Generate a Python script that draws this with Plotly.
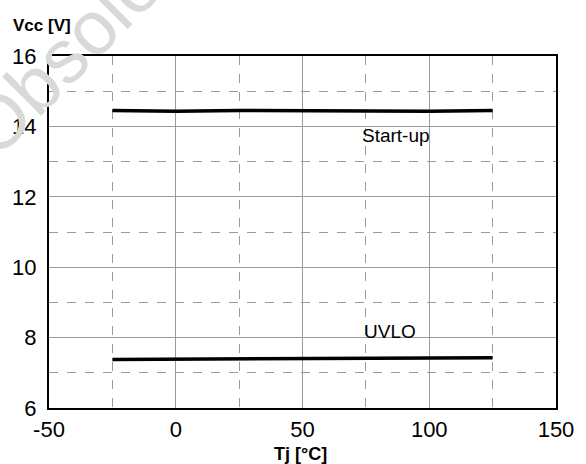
import plotly.graph_objects as go

# Data
temps = [-25, 0, 25, 50, 75, 100, 125]
startup = [14.45, 14.43, 14.45, 14.44, 14.43, 14.43, 14.45]
uvlo = [7.38, 7.39, 7.41, 7.42, 7.42, 7.43, 7.43]

x_ticks = [-50, 0, 50, 100, 150]
y_ticks = [6, 8, 10, 12, 14, 16]

FONT = "Liberation Sans, Arial, sans-serif"

fig = go.Figure()
fig.add_trace(go.Scatter(x=temps, y=startup, mode="lines",
                         line=dict(color="black", width=3.5), showlegend=False))
fig.add_trace(go.Scatter(x=temps, y=uvlo, mode="lines",
                         line=dict(color="black", width=3.5), showlegend=False))

axis_common = dict(
    showline=True, linecolor="black", linewidth=2, mirror=True,
    showgrid=True, gridcolor="#9a9a9a", gridwidth=1,
    zeroline=False, ticks="",
    tickfont=dict(family=FONT, size=22, color="black"),
)

fig.update_xaxes(range=[-50, 150], tickvals=x_ticks,
                 ticktext=[str(v) for v in x_ticks], ticklabelstandoff=1,
                 minor=dict(dtick=25, showgrid=True, griddash="dash",
                            gridcolor="#9a9a9a", gridwidth=1),
                 **axis_common)
fig.update_yaxes(range=[6, 16], tickvals=y_ticks,
                 ticktext=[str(v) for v in y_ticks], ticklabelstandoff=6,
                 minor=dict(dtick=1, showgrid=True, griddash="dash",
                            gridcolor="#9a9a9a", gridwidth=1),
                 **axis_common)

annotations = [
    dict(text="Obsolete", xref="paper", yref="paper", x=0.07, y=1.062,
         xanchor="center", yanchor="middle", textangle=-45, showarrow=False,
         font=dict(family=FONT, size=76, color="#d9d9d9")),
    dict(text="<b>Vcc [V]</b>", xref="paper", yref="paper", x=-0.075, y=1.088,
         xanchor="left", yanchor="middle", showarrow=False,
         font=dict(family=FONT, size=17, color="black")),
    dict(text="<b>Tj [°C]</b>", xref="paper", yref="paper", x=0.496, y=-0.131,
         xanchor="center", yanchor="middle", showarrow=False,
         font=dict(family=FONT, size=18, color="black")),
    dict(text="Start-up", x=87, y=13.73, showarrow=False,
         xanchor="center", yanchor="middle",
         font=dict(family=FONT, size=19, color="black")),
    dict(text="UVLO", x=84.5, y=8.16, showarrow=False,
         xanchor="center", yanchor="middle",
         font=dict(family=FONT, size=19, color="black")),
]

fig.update_layout(
    width=586, height=464,
    margin=dict(l=45, r=23, t=56, b=56),
    plot_bgcolor="white", paper_bgcolor="white",
    annotations=annotations,
    font=dict(family=FONT),
)

fig.write_html("out.html")
